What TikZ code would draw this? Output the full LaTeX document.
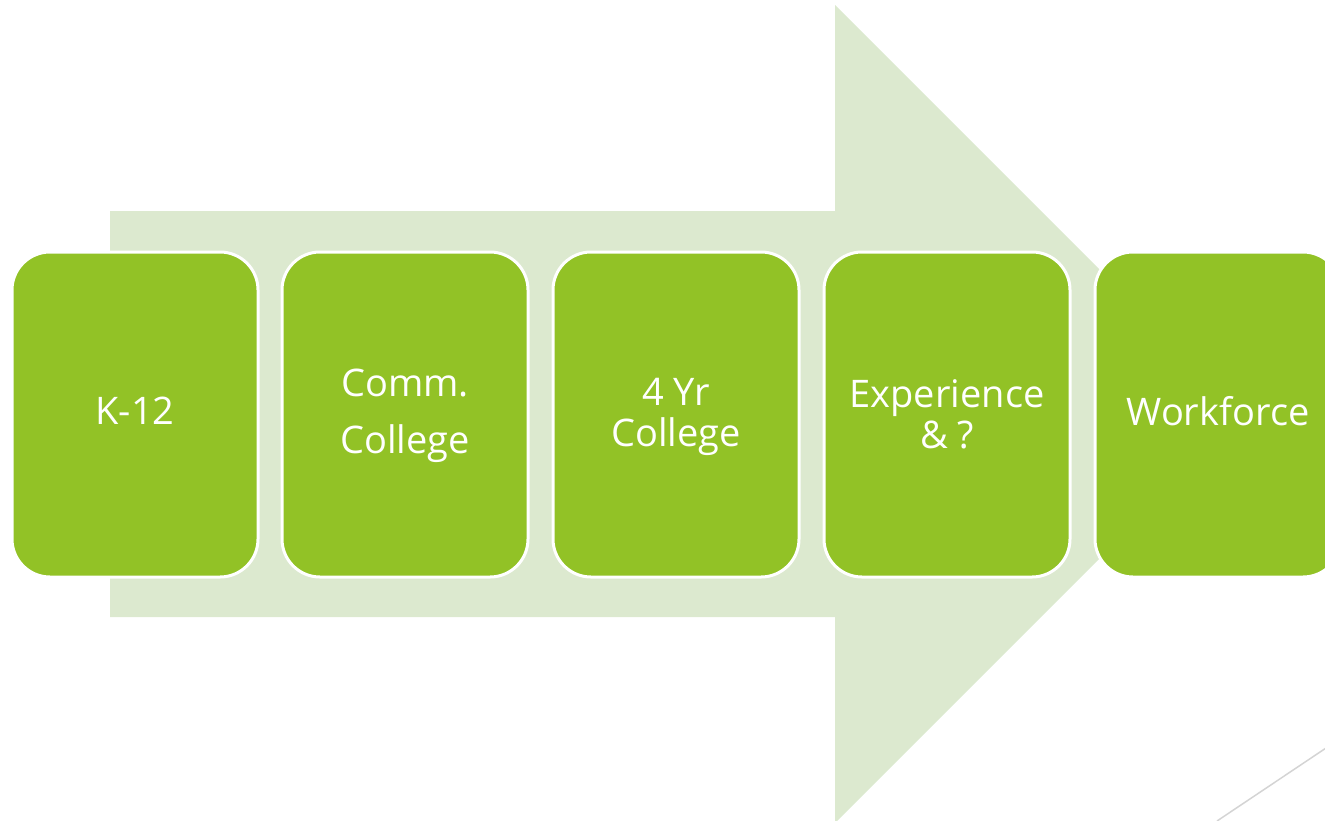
\documentclass[tikz,border=0pt]{standalone}
\usepackage{fontspec}
\setmainfont{Open Sans}
\definecolor{arrowgreen}{HTML}{DCE9CF}
\definecolor{boxgreen}{HTML}{92C226}
\definecolor{linegray}{HTML}{D4D4D4}
\begin{document}
\begin{tikzpicture}[x=1pt,y=-1pt,
  stage/.style={rectangle, rounded corners=38pt, fill=boxgreen, draw=white, line width=3pt,
    minimum width=246pt, minimum height=325pt, inner sep=0pt},
  stagetext/.style={text=white, font=\fontsize{38}{41}\selectfont, align=center}]
\useasboundingbox (0,0) rectangle (1325,820);
\begin{scope}
\clip (0,0) rectangle (1325,820);
\fill[arrowgreen] (110,211) -- (835,211) -- (835,5) -- (1244,414) -- (835,823) -- (835,617) -- (110,617) -- cycle;
\node[stage] (k12) at (135,414.5) {};
\node[stage] (cc) at (405,414.5) {};
\node[stage] (fy) at (676,414.5) {};
\node[stage] (exp) at (947,414.5) {};
\node[stage] (wf) at (1218,414.5) {};
\node[stagetext] (t1) at (135,411) {K-12};
\node[stagetext, font=\fontsize{38}{57}\selectfont] (t2) at (405,416) {Comm.\\College};
\node[stagetext] (t3) at (676,417) {4 Yr\\College};
\node[stagetext] (t4) at (947,414) {Experience\\\& ?};
\node[stagetext] (t5) at (1218,411) {Workforce};
\coordinate (g1) at (1217,821);
\coordinate (g2) at (1326,748);
\draw[linegray, line width=1.5pt] (g1) -- (g2);
\end{scope}
\end{tikzpicture}
\end{document}
